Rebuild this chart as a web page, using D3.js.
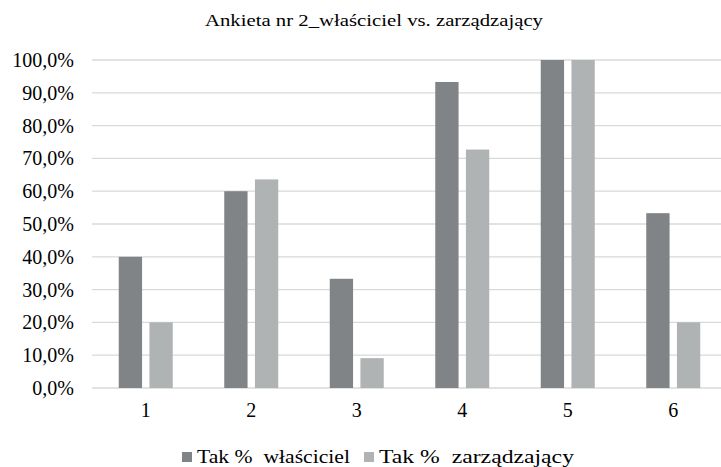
<!DOCTYPE html>
<html>
<head>
<meta charset="utf-8">
<script src="https://cdn.jsdelivr.net/npm/d3@7"></script>
</head>
<body style="margin:0; background:#fff">
<div id="chart"></div>
<script>
// questions 1..6
var categories = ["1", "2", "3", "4", "5", "6"];
// Tak % właściciel
var owners = [40.0, 60.0, 33.3, 93.3, 100.0, 53.3];
// Tak % zarządzający
var managers = [20.0, 63.6, 9.1, 72.7, 100.0, 20.0];
var yTicks = [0, 10, 20, 30, 40, 50, 60, 70, 80, 90, 100];
var seriesNames = ["Tak %  właściciel", "Tak %  zarządzający"];
var colors = ["#818487", "#b0b3b4"];

var font = "Liberation Serif";

let svg = d3.select("#chart")
            .append("svg")
            .attr("width", 721)
            .attr("height", 467);

// plot area runs a bit past the right edge, as in the picture
let x0 = d3.scaleBand()
           .domain(categories)
           .range([93, 726]);

let x1 = d3.scaleBand()
           .domain([0, 1])
           .range([-27, 27])
           .paddingInner(0.24);

let y = d3.scaleLinear()
          .domain([0, 100])
          .range([388, 60]);

svg.append("text")
   .attr("x", 205)
   .attr("y", 26)
   .attr("font-family", font)
   .attr("font-size", 17)
   .attr("textLength", 338)
   .attr("lengthAdjust", "spacingAndGlyphs")
   .text("Ankieta nr 2_właściciel  vs. zarządzający");

// gridlines
svg.append("g")
   .selectAll("line")
   .data(yTicks)
   .enter()
   .append("line")
   .attr("x1", 92)
   .attr("x2", 726)
   .attr("y1", d => y(d))
   .attr("y2", d => y(d))
   .style("stroke", "#d9d9d9")
   .style("stroke-width", 1.3);

// y labels
svg.append("g")
   .selectAll("text")
   .data(yTicks)
   .enter()
   .append("text")
   .attr("x", 74)
   .attr("y", d => y(d) + 7)
   .attr("text-anchor", "end")
   .attr("font-family", font)
   .attr("font-size", 20)
   .text(d => d.toFixed(1).replace(".", ",") + "%");

let series = [owners, managers];

let groups = svg.append("g")
   .selectAll("g")
   .data(categories)
   .enter()
   .append("g")
   .attr("transform", d => "translate(" + (x0(d) + x0.bandwidth() / 2) + ",0)");

groups.selectAll("rect")
   .data((d, i) => series.map((s, k) => ({k: k, v: s[i]})))
   .enter()
   .append("rect")
   .attr("x", d => x1(d.k))
   .attr("width", x1.bandwidth())
   .attr("y", d => y(d.v))
   .attr("height", d => y(0) - y(d.v))
   .style("fill", d => colors[d.k]);

// x labels
groups.append("text")
   .attr("y", 417)
   .attr("text-anchor", "middle")
   .attr("font-family", font)
   .attr("font-size", 20)
   .text(d => d);

// legend
let legendX = [182, 364];
let legendW = [153, 195];
let legend = svg.append("g")
   .selectAll("g")
   .data(seriesNames)
   .enter()
   .append("g")
   .attr("transform", (d, i) => "translate(" + legendX[i] + ",452)");

legend.append("rect")
   .attr("width", 10)
   .attr("height", 10)
   .style("fill", (d, i) => colors[i]);

legend.append("text")
   .attr("x", 15)
   .attr("y", 11)
   .attr("font-family", font)
   .attr("font-size", 19)
   .attr("xml:space", "preserve")
   .attr("textLength", (d, i) => legendW[i])
   .attr("lengthAdjust", "spacingAndGlyphs")
   .text(d => d);
</script>
</body>
</html>
